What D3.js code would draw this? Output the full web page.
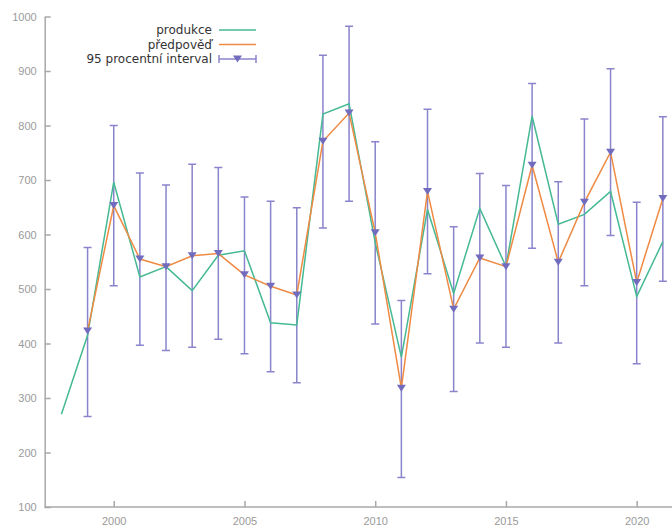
<!DOCTYPE html>
<html>
<head>
<meta charset="utf-8">
<script src="https://cdn.jsdelivr.net/npm/d3@7"></script>
<style>
  body { margin: 0; background: #fff; }
  svg { display: block; font-family: "DejaVu Sans", Verdana, sans-serif; }
  .axis path, .axis line { stroke: #a8a8a8; stroke-width: 1.5; }
  .axis text { fill: #9a9a9a; font-size: 11px; }
</style>
</head>
<body>
<div class="chart"></div>
<script>
// data
const prod_years = [1998, 1999, 2000, 2001, 2002, 2003, 2004, 2005, 2006, 2007, 2008, 2009,
                    2010, 2011, 2012, 2013, 2014, 2015, 2016, 2017, 2018, 2019, 2020, 2021];
const produkce = [270, 415, 696, 522, 541, 497, 562, 570, 438, 434, 821, 840,
                  585, 375, 646, 492, 648, 541, 817, 619, 637, 679, 486, 587];

const fc_years = prod_years.slice(1);
const predpoved = [423, 653, 555, 541, 561, 565, 526, 505, 489, 771, 823,
                   603, 318, 679, 463, 557, 541, 727, 549, 659, 751, 512, 666];
const ci_low = [266, 506, 397, 387, 393, 408, 381, 348, 328, 612, 661,
                436, 154, 528, 312, 401, 393, 575, 401, 506, 598, 363, 514];
const ci_high = [576, 800, 713, 691, 729, 723, 669, 661, 649, 929, 982,
                 770, 479, 830, 614, 712, 690, 877, 697, 812, 904, 659, 816];

const y_ticks = [100, 200, 300, 400, 500, 600, 700, 800, 900, 1000];
const x_ticks = [2000, 2005, 2010, 2015, 2020];
const legend_labels = ['produkce', 'předpověď', '95 procentní interval'];

const c_green = '#45b993';
const c_orange = '#ef8a43';
const c_purple = '#8a84cc';
const c_marker = '#726cbf';

const width = 672, height = 526;
const svg = d3.select('.chart').append('svg')
    .attr('width', width)
    .attr('height', height);

const x = d3.scaleLinear().domain([1997.36, 2021.35]).range([44.7, 672]);
const y = d3.scaleLinear().domain([100, 1000]).range([507, 16.5]);

// axes (ticks point inward like gnuplot)
const x_axis = d3.axisBottom(x).tickValues(x_ticks).tickFormat(d3.format('d'))
    .tickSizeInner(-6).tickSizeOuter(0).tickPadding(10);
const x_g = svg.append('g').attr('class', 'axis')
    .attr('transform', `translate(0,${y(100)})`).call(x_axis);
x_g.select('.domain').attr('d', `M${x.range()[0]},0H${x.range()[1]}`);

const y_axis = d3.axisLeft(y).tickValues(y_ticks).tickFormat(d3.format('d'))
    .tickSizeInner(-6).tickSizeOuter(0).tickPadding(8);
const y_g = svg.append('g').attr('class', 'axis')
    .attr('transform', `translate(${x.range()[0]},0)`).call(y_axis);

// error bars
const ci = fc_years.map((yr, i) => ({yr, lo: ci_low[i], hi: ci_high[i], v: predpoved[i]}));
const bars = svg.append('g').attr('stroke', c_purple).attr('stroke-width', 1.5).attr('fill', 'none');
bars.selectAll('path').data(ci).enter().append('path')
    .attr('d', d => {
        const cx = x(d.yr), y0 = y(d.lo), y1 = y(d.hi);
        return `M${cx},${y0}V${y1}M${cx - 4},${y0}H${cx + 4}M${cx - 4},${y1}H${cx + 4}`;
    });

// lines
const line = d3.line().x(d => x(d[0])).y(d => y(d[1]));
svg.append('path')
    .datum(prod_years.map((yr, i) => [yr, produkce[i]]))
    .attr('d', line).attr('fill', 'none')
    .attr('stroke', c_green).attr('stroke-width', 1.5);
svg.append('path')
    .datum(fc_years.map((yr, i) => [yr, predpoved[i]]))
    .attr('d', line).attr('fill', 'none')
    .attr('stroke', c_orange).attr('stroke-width', 1.5);

// triangle markers
const tri = (cx, cy) => `M${cx - 4.5},${cy - 3.5}H${cx + 4.5}L${cx},${cy + 3.5}Z`;
svg.append('g').attr('fill', c_marker)
    .selectAll('path').data(ci).enter().append('path')
    .attr('d', d => tri(x(d.yr), y(d.v)));

// legend
const lg = svg.append('g').attr('font-size', '12px').attr('fill', '#333');
const lg_y = [30, 44.5, 59];
legend_labels.forEach((t, i) => {
    lg.append('text').attr('x', 212).attr('y', lg_y[i]).attr('dy', '0.35em')
        .attr('text-anchor', 'end').text(t);
});
lg.append('line').attr('x1', 219).attr('x2', 256).attr('y1', lg_y[0]).attr('y2', lg_y[0])
    .attr('stroke', c_green).attr('stroke-width', 1.5);
lg.append('line').attr('x1', 219).attr('x2', 256).attr('y1', lg_y[1]).attr('y2', lg_y[1])
    .attr('stroke', c_orange).attr('stroke-width', 1.5);
lg.append('path')
    .attr('d', `M219,${lg_y[2]}H256M219,${lg_y[2] - 4}V${lg_y[2] + 4}M256,${lg_y[2] - 4}V${lg_y[2] + 4}`)
    .attr('stroke', c_purple).attr('stroke-width', 1.5).attr('fill', 'none');
lg.append('path').attr('d', tri(237.5, lg_y[2])).attr('fill', c_marker);
</script>
</body>
</html>
